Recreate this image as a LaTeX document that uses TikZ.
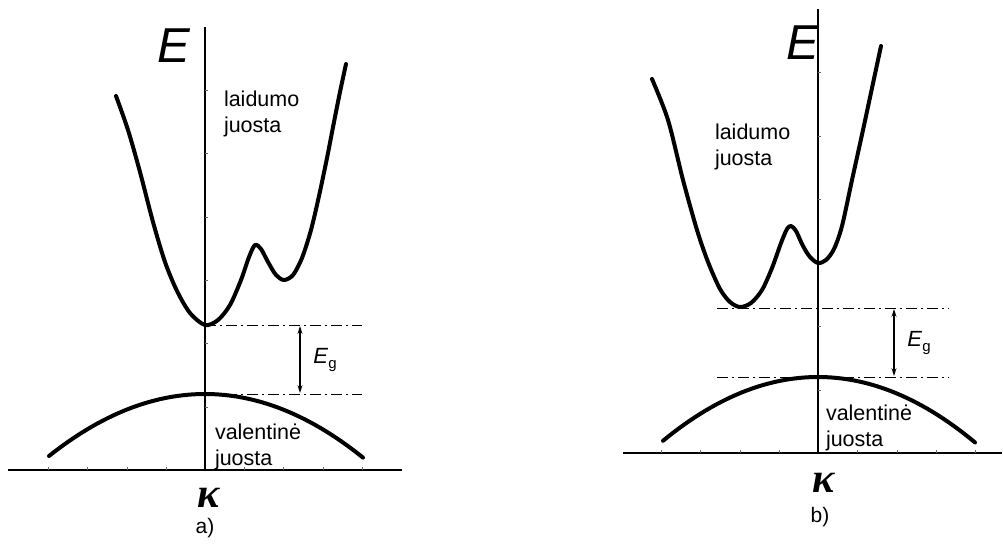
\documentclass[tikz,border=0pt]{standalone}
\usepackage{fontspec}
\setmainfont{Liberation Sans}
\newfontfamily\kfont{Liberation Serif}
\usetikzlibrary{arrows.meta}
\tikzset{
  axisline/.style={line width=1.3pt, black},
  band/.style={line width=4pt, black, line cap=round, line join=round},
  dashdot/.style={line width=1pt, dash pattern=on 11pt off 4pt on 2pt off 4pt},
  gaparrow/.style={line width=1.2pt, {Stealth[length=8pt,width=5pt,inset=3pt]}-{Stealth[length=8pt,width=5pt,inset=3pt]}},
  tickmark/.style={line width=0.5pt, black!60},
  lbl/.style={inner sep=0pt, outer sep=0pt, align=left, font=\fontsize{21.5}{26}\selectfont},
  bigE/.style={inner sep=0pt, font=\fontsize{49}{49}\selectfont\itshape},
  kap/.style={inner sep=0pt, font=\fontsize{42}{42}\selectfont\kfont\bfseries\itshape},
  panelcap/.style={inner sep=0pt, font=\fontsize{21}{22}\selectfont},
  eg/.style={inner sep=0pt, font=\fontsize{22}{24}\selectfont}
}
\begin{document}
\begin{tikzpicture}[x=1pt,y=-1pt]
\useasboundingbox (0,0) rectangle (1003,546);
% ================= panel a =================
\coordinate (aytop) at (205,27);
\coordinate (ayb) at (205,470);
\coordinate (axl) at (8,470);
\coordinate (axr) at (402,470);
\draw[axisline] (ayb) -- (aytop);
\draw[axisline] (axl) -- (axr);
\foreach \t in {90,153,217,280,343,407} \draw[tickmark] (205,\t) -- (208,\t);
\foreach \t in {48,87,127,166,244,283,323,362} \draw[tickmark] (\t,470) -- (\t,467);
% conduction band
\draw[band] plot[smooth, tension=0.5] coordinates {
 (116,96) (128,130) (140,172) (153,222) (165,262) (177,291) (190,313) (205,325)
 (218,320) (230,305) (241,280) (249,257) (255,245) (261,249) (268,262) (276,275)
 (284,280) (293,275) (302,258) (311,230) (319,196) (327,158) (334,122) (340,92) (346,64)};
% valence band
\draw[band] plot[domain=49:363, samples=60] (\x, {394 + 0.00255*(\x-205)*(\x-205)});
% dash-dot levels
\coordinate (acl) at (205,325); \coordinate (acr) at (362,325);
\coordinate (avl) at (205,394); \coordinate (avr) at (362,394);
\draw[dashdot] (acl) -- (acr);
\draw[dashdot] (avl) -- (avr);
\coordinate (ga1) at (300,326); \coordinate (ga2) at (300,393);
\draw[gaparrow] (ga1) -- (ga2);
\node[eg] (ega) at (325,360) {\textit{E}\raisebox{-0.45ex}{\fontsize{15}{15}\selectfont g}};
\node[bigE, anchor=base] (Ea) at (174,62) {E};
\node[lbl, anchor=base west] (la) at (224,132) {laidumo\\juosta};
\node[lbl, anchor=base west] (va) at (215,465) {valentinė\\juosta};
\node[kap, anchor=base] (ka) at (209,507) {κ};
\node[panelcap] (capa) at (205,528) {a)};
% ================= panel b =================
\coordinate (bytop) at (818,9);
\coordinate (byb) at (818,453);
\coordinate (bxl) at (623,453);
\coordinate (bxr) at (1002,453);
\draw[axisline] (byb) -- (bytop);
\draw[axisline] (bxl) -- (bxr);
\foreach \t in {72,136,199,263,326,390} \draw[tickmark] (818,\t) -- (821,\t);
\foreach \t in {661,700,740,779,857,897,936,975} \draw[tickmark] (\t,453) -- (\t,450);
\draw[band] plot[smooth, tension=0.5] coordinates {
 (652,79) (668,120) (683,180) (697,230) (708,262) (720,289) (730,302) (740,307)
 (751,303) (762,290) (772,268) (781,243) (787,229) (791,226) (796,231) (803,246)
 (810,257) (818,263) (826,260) (834,249) (842,226) (852,180) (863,130) (872,88) (881,46)};
\draw[band] plot[domain=663:975, samples=60] (\x, {377 + 0.00266*(\x-818)*(\x-818)});
\coordinate (bcl) at (717,308); \coordinate (bcr) at (949,308);
\coordinate (bvl) at (717,377); \coordinate (bvr) at (949,377);
\draw[dashdot] (bcl) -- (bcr);
\draw[dashdot] (bvl) -- (bvr);
\coordinate (gb1) at (894,309); \coordinate (gb2) at (894,376);
\draw[gaparrow] (gb1) -- (gb2);
\node[eg] (egb) at (919,343) {\textit{E}\raisebox{-0.45ex}{\fontsize{15}{15}\selectfont g}};
\node[bigE, anchor=base] (Eb) at (803,59) {E};
\node[lbl, anchor=base west] (lb) at (715,165) {laidumo\\juosta};
\node[lbl, anchor=base west] (vb) at (826,446) {valentinė\\juosta};
\node[kap, anchor=base] (kb) at (824,492) {κ};
\node[panelcap] (capb) at (820,517) {b)};
\end{tikzpicture}
\end{document}
